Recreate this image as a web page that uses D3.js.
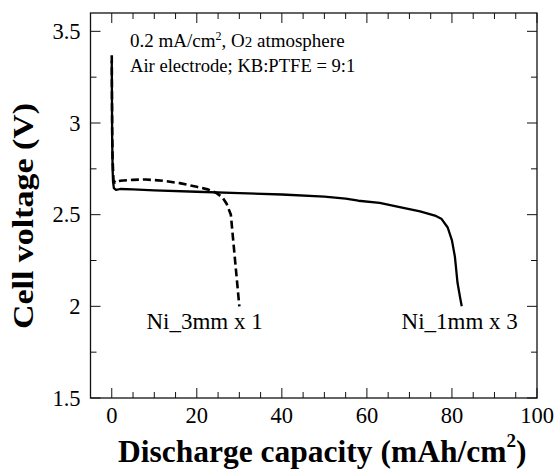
<!DOCTYPE html>
<html><head><meta charset="utf-8">
<script src="https://cdn.jsdelivr.net/npm/d3@7"></script>
<style>body{margin:0;background:#fff}svg{display:block}</style>
</head><body><svg id="c" width="555" height="472"></svg>
<script>
// Data (capacity mAh/cm^2, voltage V)
const solidCap = [0,0.05,0.1,0.2,0.3,0.5,1,2,5,10,20,30,40,50,55,58,63,68,72.5,76,77.5,79,80,80.7,81.3,81.9,82.3];
const solidV   = [3.34,3.1,2.9,2.75,2.68,2.645,2.635,2.64,2.638,2.633,2.625,2.618,2.61,2.598,2.588,2.576,2.564,2.54,2.518,2.495,2.478,2.43,2.36,2.27,2.13,2.05,2.0];
const dashCap  = [0,0.05,0.1,0.2,0.4,0.8,2,5,8,12,16,20,22.5,24.5,26,27,28,28.8,29.4,30];
const dashV    = [3.37,3.15,2.95,2.8,2.69,2.675,2.685,2.69,2.692,2.685,2.672,2.652,2.638,2.62,2.595,2.56,2.5,2.3,2.15,2.0];
const xTicks = [0,20,40,60,80,100];
const yTicks = [1.5,2,2.5,3,3.5];
const xLabel = "Discharge capacity (mAh/cm";
const yLabel = "Cell voltage (V)";
const labels = [{text:"Ni_3mm x 1", cap:35.5}, {text:"Ni_1mm x 3", cap:95.5}];

const svg = d3.select("#c");
const L=90.5, R=537, T=13, B=398;
const x = d3.scaleLinear().domain([-5,100]).range([L,R]);
const y = d3.scaleLinear().domain([1.5,3.6]).range([B,T]);

const g = svg.append("g").attr("font-family","'Liberation Serif','Times New Roman',serif").attr("fill","#000");
// frame
g.append("rect").attr("x",L).attr("y",T).attr("width",R-L).attr("height",B-T)
 .attr("fill","none").attr("stroke","#111").attr("stroke-width",1.3);

// ticks
const xMinor = d3.range(0,101,5);
const yMinor = d3.range(1.5,3.601,0.25);
xMinor.forEach(v=>{
  const major = v%20===0; const len = major?10:6;
  g.append("line").attr("x1",x(v)).attr("x2",x(v)).attr("y1",B).attr("y2",B-len).attr("stroke","#111").attr("stroke-width",1);
  g.append("line").attr("x1",x(v)).attr("x2",x(v)).attr("y1",T).attr("y2",T+len).attr("stroke","#111").attr("stroke-width",1);
});
yMinor.forEach(v=>{
  const major = Math.abs(v*2-Math.round(v*2))<1e-6; const len = major?10:6;
  g.append("line").attr("y1",y(v)).attr("y2",y(v)).attr("x1",L).attr("x2",L+len).attr("stroke","#111").attr("stroke-width",1);
  g.append("line").attr("y1",y(v)).attr("y2",y(v)).attr("x1",R).attr("x2",R-len).attr("stroke","#111").attr("stroke-width",1);
});
xTicks.forEach(v=>{
  g.append("text").attr("x",x(v)).attr("y",B+25).attr("text-anchor","middle").attr("font-size",22.5).text(v);
});
yTicks.forEach(v=>{
  g.append("text").attr("x",L-10).attr("y",y(v)+7.5).attr("text-anchor","end").attr("font-size",22.5).text(v);
});

// axis titles
const xt = g.append("text").attr("x",118).attr("y",462)
 .attr("font-size",31.5).attr("font-weight","bold");
xt.append("tspan").text(xLabel);
xt.append("tspan").attr("font-size",19).attr("dy",-15).text("2");
xt.append("tspan").attr("dy",15).text(")");
g.append("text").attr("transform",`translate(33,216) rotate(-90)`).attr("text-anchor","middle")
 .attr("font-size",30).attr("font-weight","bold").attr("textLength",226).attr("lengthAdjust","spacingAndGlyphs").text(yLabel);

// curves
const line = d3.line().x(d=>x(d[0])).y(d=>y(d[1]));
g.append("path").datum(solidCap.map((c,i)=>[c,solidV[i]])).attr("d",line)
 .attr("fill","none").attr("stroke","#000").attr("stroke-width",2.3).attr("stroke-linejoin","round");
g.append("path").datum(dashCap.map((c,i)=>[c,dashV[i]])).attr("d",line)
 .attr("fill","none").attr("stroke","#000").attr("stroke-width",2.6).attr("stroke-dasharray","8,4");

// annotations
const a1 = g.append("text").attr("x",130).attr("y",47).attr("font-size",19);
a1.append("tspan").text("0.2 mA/cm");
a1.append("tspan").attr("font-size",12).attr("dy",-7).text("2");
a1.append("tspan").attr("dy",7).text(", O");
a1.append("tspan").attr("font-size",15).text("2");
a1.append("tspan").text(" atmosphere");
g.append("text").attr("x",130).attr("y",72).attr("font-size",18.6).text("Air electrode; KB:PTFE = 9:1");

labels.forEach(l=>{
  g.append("text").attr("x",x(l.cap)).attr("y",329).attr("text-anchor","end").attr("font-size",23).text(l.text);
});
</script></body></html>
